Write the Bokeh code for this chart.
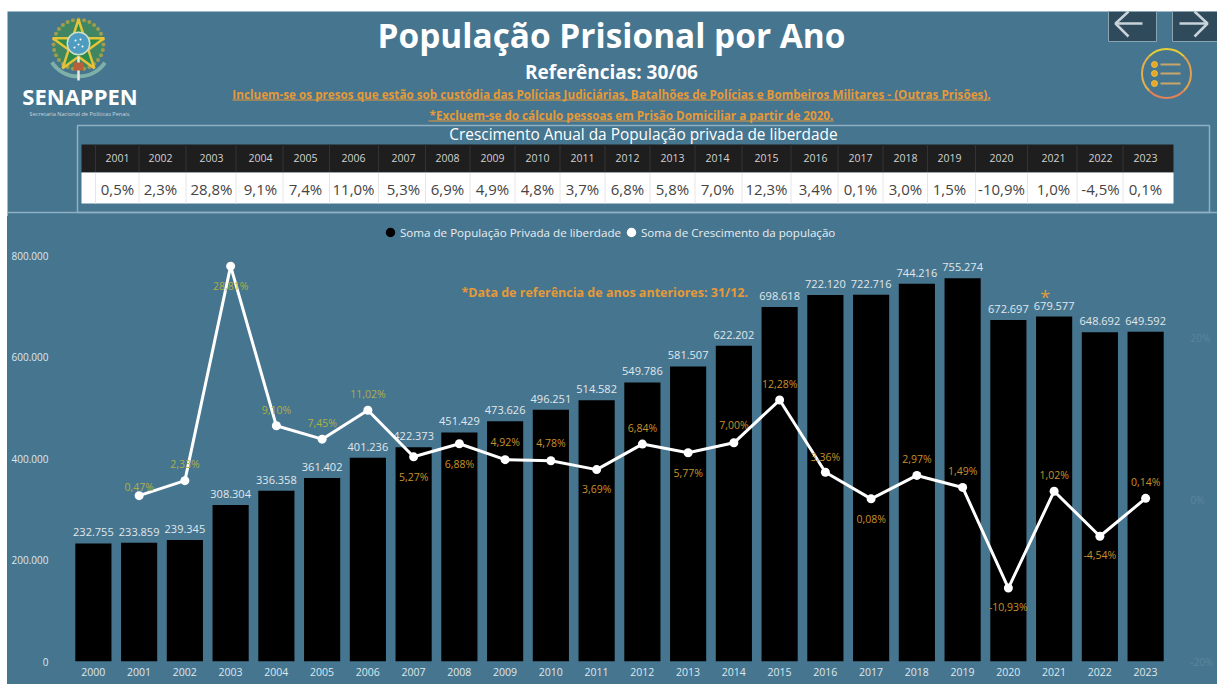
from bokeh.plotting import figure
from bokeh.layouts import column
from bokeh.models import (Range1d, FactorRange, LinearAxis, FixedTicker, ColumnDataSource,
                          Legend, LegendItem)
from bokeh.core.properties import value
from bokeh.embed import file_html
from bokeh.resources import INLINE
import numpy as np

years = [str(y) for y in range(2000, 2024)]
population = [232755, 233859, 239345, 308304, 336358, 361402, 401236, 422373, 451429, 473626,
              496251, 514582, 549786, 581507, 622202, 698618, 722120, 722716, 744216, 755274,
              672697, 679577, 648692, 649592]
growth_years = years[1:]
growth = [0.47, 2.33, 28.81, 9.10, 7.45, 11.02, 5.27, 6.88, 4.92, 4.78, 3.69, 6.84, 5.77, 7.00,
          12.28, 3.36, 0.08, 2.97, 1.49, -10.93, 1.02, -4.54, 0.14]
growth_offset = [-9, -17, 20, -16, -16, -16, 20, 20, -18, -18, 19, -16, 20, -18, -16, -15, 20,
                 -16, -16, 19, -16, 19, -16]
table_values = ["0,5%", "2,3%", "28,8%", "9,1%", "7,4%", "11,0%", "5,3%", "6,9%", "4,9%", "4,8%",
                "3,7%", "6,8%", "5,8%", "7,0%", "12,3%", "3,4%", "0,1%", "3,0%", "1,5%", "-10,9%",
                "1,0%", "-4,5%", "0,1%"]
table_centers = [117, 160, 211, 260, 305, 353, 403, 447, 492, 537, 582, 627, 672, 717, 766, 815,
                 860, 905, 949, 1001, 1053, 1100, 1145]
y_ticks = [0, 200000, 400000, 600000, 800000]
y_tick_labels = ["0", "200.000", "400.000", "600.000", "800.000"]
pct_ticks = [-20, 0, 20]
pct_tick_labels = ["-20%", "0%", "20%"]

BG = "#46758f"
FONT = "Open Sans"
ORANGE = "#e59a38"
OLIVE = "#aeb043"
GOLD = "#c8922c"

# ---------------- header (pixel coordinates of the picture)
h = figure(width=1217, height=216, x_range=Range1d(0, 1217), y_range=Range1d(216, 0),
           output_backend="svg", toolbar_location=None, min_border=0,
           background_fill_color="white", border_fill_color="white", outline_line_color=None)
h.axis.visible = False
h.grid.visible = False


def txt(x, y, s, size, color, style="normal", align="center", font=FONT):
    h.text([x], [y], text=[s], text_font=value(font), text_font_size=f"{size}px",
           text_color=color, text_font_style=style, text_align=align, text_baseline="middle")


h.quad(left=[7], right=[1217], top=[11], bottom=[216], fill_color=BG, line_color=None)
h.segment([7], [212], [1217], [212], line_color="#8fb0c2", line_width=1.5)

# emblem
h.circle([78], [44], radius=26, fill_color="#3f8a5a", line_color=None, fill_alpha=0.85)
ang = np.linspace(0, 2 * np.pi, 28, endpoint=False)
h.scatter(78 + 25 * np.cos(ang), 44 + 25 * np.sin(ang), marker="circle", size=4,
          fill_color="#b9a24a", line_color=None, fill_alpha=0.8)
h.scatter([78], [46], marker="star", size=54, fill_color="#2c8a4a", line_color="#e4c23a", line_width=2.5)
h.circle([78], [43], radius=12, fill_color="#cfe0c8", line_color=None)
h.circle([78], [43], radius=10.5, fill_color="#4e9cc0", line_color=None)
h.scatter([75, 80, 78, 82, 74], [40, 39, 44, 46, 47], marker="circle", size=2, fill_color="white", line_color=None)
h.arc([78], [44], radius=32, start_angle=-2.55, end_angle=-0.6, line_color="#7fb0a8", line_width=4)
h.segment([78], [56], [78], [80], line_color="#e8e8e0", line_width=2.5)
h.quad(left=[73], right=[83], top=[62], bottom=[70], fill_color="#b9603a", line_color=None)
txt(79.5, 95.5, "SENAPPEN", 22, "white", "bold")
txt(79, 113, "Secretaria Nacional de Políticas Penais", 5.6, "#c9d6dd")

# titles
txt(611, 34, "População Prisional por Ano", 33.4, "white", "bold")
txt(611, 71, "Referências: 30/06", 19, "white", "bold")
txt(611, 93, "Incluem-se os presos que estão sob custódia das Polícias Judiciárias, Batalhões de Polícias e Bombeiros Militares - (Outras Prisões).",
    11.7, ORANGE, "bold")
txt(631, 114, "*Excluem-se do cálculo pessoas em Prisão Domiciliar a partir de 2020.", 11.7, ORANGE, "bold")
h.segment([232, 428], [99.5, 120.5], [990, 833], [99.5, 120.5], line_color=ORANGE, line_width=1)

# menu icon
for a0, a1, c in [(0.75, 1.25, "#e4b04a"), (1.25, 1.75, "#e2825a"), (1.75, 0.25, "#e4a04a"), (0.25, 0.75, "#e3cc3a")]:
    h.arc([1166], [73], radius=24.5, start_angle=np.pi * a0, end_angle=np.pi * a1, direction="anticlock",
          line_color=c, line_width=2)
h.scatter([1154, 1154, 1154], [64, 73, 83], marker="circle", size=6, fill_color="#e8a52a",
          line_color="#e8c53a", line_width=1)
h.segment([1160, 1160, 1160], [64, 73, 83], [1180, 1180, 1180], [64, 73, 83],
          line_color="#c9a56a", line_width=2)

# arrows
h.quad(left=[1108, 1172], right=[1156, 1220], top=[11, 11], bottom=[41, 41],
       fill_color="#2f4a5a", line_color="#8aa3b0", line_width=1)
h.multi_line([[1142, 1115], [1128, 1115, 1128], [1179, 1207], [1194, 1207, 1194]],
             [[23, 23], [11, 23, 36], [23, 23], [11, 23, 36]], line_color="#c8d4da", line_width=2.5)

# table
h.quad(left=[77], right=[1209], top=[125], bottom=[212], fill_color=None, line_color="#8fb0c2", line_width=1.5)
txt(643, 134, "Crescimento Anual da População privada de liberdade", 15.4, "white")
h.quad(left=[81], right=[1173], top=[144], bottom=[172], fill_color="#1e1e1e", line_color=None)
h.quad(left=[81], right=[1173], top=[172], bottom=[203], fill_color="white", line_color=None)
edges = [95] + [(a + b) / 2 for a, b in zip(table_centers[:-1], table_centers[1:])]
h.segment(edges, [144] * len(edges), edges, [172] * len(edges), line_color="#333333", line_width=1)
h.segment(edges, [172] * len(edges), edges, [203] * len(edges), line_color="#e6e6e6", line_width=1)
h.text(table_centers, [157] * 23, text=growth_years, text_font=value(FONT), text_font_size="10.5px",
       text_color="#d2d2d2", text_align="center", text_baseline="middle")
h.text(table_centers, [188] * 23, text=table_values, text_font=value(FONT), text_font_size="15px",
       text_color="#444444", text_align="center", text_baseline="middle")

# ---------------- chart
Y_MAX = 445 / 0.5075 * 1000
PCT_MAX = (499 - 216) / 8.1
p = figure(width=1210, height=468, x_range=FactorRange(factors=years, range_padding=0),
           y_range=Range1d(0, Y_MAX), output_backend="svg", toolbar_location=None,
           min_border_left=63, min_border_right=49, min_border_top=0, min_border_bottom=23,
           background_fill_alpha=0, border_fill_alpha=0, outline_line_color=None,
           margin=(0, 0, 0, 7), styles={"background-color": BG})
p.extra_y_ranges = {"pct": Range1d(-20, PCT_MAX)}
p.grid.visible = False

for ax in [p.xaxis[0], p.yaxis[0]]:
    ax.axis_line_color = None
    ax.major_tick_line_color = None
    ax.minor_tick_line_color = None
    ax.major_label_text_font = FONT

p.xaxis[0].major_label_text_color = "#dfe8ed"
p.xaxis[0].major_label_text_font_size = "10.5px"
p.xaxis[0].major_label_standoff = 6
p.xaxis[0].major_tick_out = 0
p.yaxis[0].major_label_text_color = "#dfe8ed"
p.yaxis[0].major_label_text_font_size = "10px"
p.yaxis[0].major_label_standoff = 22
p.yaxis[0].major_tick_out = 0
p.yaxis[0].ticker = FixedTicker(ticks=y_ticks)
p.yaxis[0].major_label_overrides = dict(zip(y_ticks, y_tick_labels))

right = LinearAxis(y_range_name="pct", ticker=FixedTicker(ticks=pct_ticks))
right.major_label_overrides = dict(zip(pct_ticks, pct_tick_labels))
right.axis_line_color = None
right.major_tick_line_color = None
right.minor_tick_line_color = None
right.major_tick_out = 0
right.major_label_standoff = 22
right.major_label_text_color = "#5a869e"
right.major_label_text_font = FONT
right.major_label_text_font_size = "10px"
p.add_layout(right, "right")

bars_src = ColumnDataSource(dict(x=years, top=population,
                                 label=[f"{v:,}".replace(",", ".") for v in population]))
bars = p.vbar(x="x", top="top", width=0.79, source=bars_src, fill_color="black", line_color=None)
p.text(x="x", y="top", text="label", source=bars_src, y_offset=-11, text_font=value(FONT),
       text_font_size="11px", text_color="#e0e8ec", text_align="center", text_baseline="middle")

line_src = ColumnDataSource(dict(
    x=growth_years, y=growth, off=growth_offset,
    label=[f"{v:.2f}%".replace(".", ",") for v in growth],
    color=[OLIVE] * 6 + [GOLD] * 17))
p.line(x="x", y="y", source=line_src, y_range_name="pct", line_color="white", line_width=3)
pts = p.scatter(x="x", y="y", source=line_src, y_range_name="pct", marker="circle", size=9,
                fill_color="white", line_color=None)
p.text(x="x", y="y", text="label", source=line_src, y_range_name="pct", y_offset="off",
       text_font=value(FONT), text_font_size="10.5px", text_color="color", text_align="center",
       text_baseline="middle")

# notes
p.text(x=["2008"], y=[727000], text=["*Data de referência de anos anteriores: 31/12."],
       x_offset=2, text_font=value(FONT), text_font_size="12.5px", text_font_style="bold",
       text_color=ORANGE, text_align="left", text_baseline="middle")
p.text(x=["2021"], y=[727000], text=["*"], x_offset=-9, y_offset=4, text_font=value(FONT),
       text_font_size="18px", text_color=ORANGE, text_align="center", text_baseline="middle")

# legend
d1 = p.scatter(x=[years[0]], y=[-1e7], marker="circle", fill_color="black", line_color="black", line_width=1.5)
d2 = p.scatter(x=[years[0]], y=[-1e7], marker="circle", fill_color="white", line_color="white", line_width=1.5)
legend = Legend(items=[LegendItem(label="Soma de População Privada de liberdade", renderers=[d1]),
                       LegendItem(label="Soma de Crescimento da população", renderers=[d2])],
                orientation="horizontal", location=(310, 417), glyph_width=20, glyph_height=24,
                label_standoff=0, spacing=-3, padding=0, margin=0,
                background_fill_alpha=0, border_line_color=None,
                label_text_color="#e8eef1", label_text_font=FONT, label_text_font_size="11.6px")
p.add_layout(legend)

page = column(column(h), column(p), spacing=0)
open("out.html", "w").write(file_html(page, INLINE))
